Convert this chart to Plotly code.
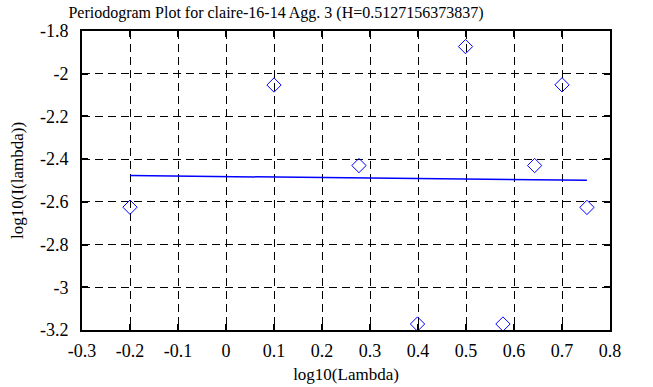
import plotly.graph_objects as go

# periodogram points (log10 lambda, log10 I(lambda))
log_lambda = [-0.2, 0.1, 0.277, 0.399, 0.499, 0.577, 0.643, 0.700, 0.752]
log_I = [-2.625, -2.053, -2.430, -3.172, -1.873, -3.172, -2.430, -2.052, -2.626]

# fitted regression line end points
fit_x = [-0.2, 0.752]
fit_y = [-2.477, -2.499]

x_tick_vals = [-0.3, -0.2, -0.1, 0, 0.1, 0.2, 0.3, 0.4, 0.5, 0.6, 0.7, 0.8]
x_tick_text = ["-0.3", "-0.2", "-0.1", "0", "0.1", "0.2", "0.3", "0.4", "0.5", "0.6", "0.7", "0.8"]
y_tick_vals = [-1.8, -2.0, -2.2, -2.4, -2.6, -2.8, -3.0, -3.2]
y_tick_text = ["-1.8", "-2", "-2.2", "-2.4", "-2.6", "-2.8", "-3", "-3.2"]

title_text = "Periodogram Plot for claire-16-14 Agg. 3 (H=0.5127156373837)"

FONT = "Liberation Serif, Times New Roman, serif"

fig = go.Figure()
fig.add_trace(go.Scatter(
    x=fit_x, y=fit_y, mode="lines",
    line=dict(color="#0000ff", width=1.5),
    showlegend=False, hoverinfo="skip",
))
fig.add_trace(go.Scatter(
    x=log_lambda, y=log_I, mode="markers",
    marker=dict(symbol="diamond-open", size=11, color="#0000ff",
                line=dict(color="#0000ff", width=1)),
    showlegend=False,
))

axis_common = dict(
    showline=True, linecolor="black", linewidth=2, mirror="allticks",
    ticks="inside", ticklen=6, tickwidth=2, tickcolor="black",
    showgrid=True, gridcolor="black", gridwidth=1, griddash="8px,5px",
    zeroline=False, automargin=False,
    tickfont=dict(family=FONT, size=18, color="black"),
)

fig.update_layout(
    width=653, height=387,
    margin=dict(l=82, r=43, t=31, b=57),
    paper_bgcolor="white", plot_bgcolor="white",
    font=dict(family=FONT, color="black"),
    title=dict(text=title_text, x=276 / 653, xanchor="center",
               y=1 - 12 / 387, yanchor="middle",
               font=dict(family=FONT, size=16, color="black")),
    xaxis=dict(range=[-0.3, 0.8], tickvals=x_tick_vals, ticktext=x_tick_text,
               ticklabelstandoff=3,
               title=dict(text="log10(Lambda)", font=dict(family=FONT, size=17), standoff=9),
               **axis_common),
    yaxis=dict(range=[-3.2, -1.8], tickvals=y_tick_vals, ticktext=y_tick_text,
               ticklabelstandoff=8,
               title=dict(text="log10(I(lambda))", font=dict(family=FONT, size=17), standoff=12),
               **axis_common),
)

fig.write_html("out.html",
               config={"displayModeBar": False},
               post_script="document.body.style.margin='0';document.body.style.padding='0';")
